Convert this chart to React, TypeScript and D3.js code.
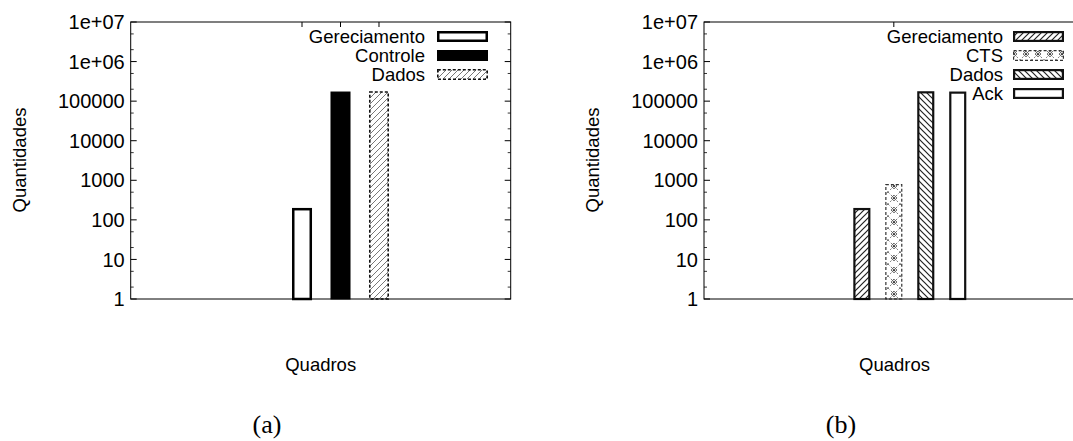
import React, { useEffect, useRef } from "react";
import * as d3 from "d3";

// dados
const categoriesA = ["Gereciamento", "Controle", "Dados"];
const valuesA = [200, 175000, 178000];
const categoriesB = ["Gereciamento", "CTS", "Dados", "Ack"];
const valuesB = [200, 800, 178000, 175000];
const yTicks = [1, 10, 100, 1000, 10000, 100000, 1000000, 10000000];
const yTickLabels = ["1", "10", "100", "1000", "10000", "100000", "1e+06", "1e+07"];
const xTicksA = ["Gereciamento", "Controle", "Dados"];
const xTicksB = ["CTS"];

const FONT = "'Liberation Sans', Arial, Helvetica, sans-serif";
const W = 1073;
const H = 441;

const stylesA = [
  { fill: "#fff", stroke: "#000", sw: 2.5, dash: null },
  { fill: "#000", stroke: "#000", sw: 1, dash: null },
  { fill: "url(#hatchLight)", stroke: "#111", sw: 1.6, dash: "3,2" },
];
const stylesB = [
  { fill: "url(#hatchFwd)", stroke: "#111", sw: 2.2, dash: null },
  { fill: "url(#cts)", stroke: "#333", sw: 1.2, dash: "3,2" },
  { fill: "url(#hatchBack)", stroke: "#111", sw: 2.2, dash: null },
  { fill: "#fff", stroke: "#111", sw: 2.2, dash: null },
];

const panels = [
  {
    categories: categoriesA, values: valuesA, styles: stylesA, xTicks: xTicksA,
    x0: 130.7, x1: 510.7, barRange: [292, 389], pad: 0.48,
    legendTextX: 425, legendX: 437, yLabelX: 19, caption: "(a)", captionX: 267,
  },
  {
    categories: categoriesB, values: valuesB, styles: stylesB, xTicks: xTicksB,
    x0: 704, x1: 1085, barRange: [853.3, 966.3], pad: 0.465,
    legendTextX: 1003, legendX: 1013, yLabelX: 592, caption: "(b)", captionX: 841,
  },
];

const drawPanel = (svg, p) => {
  const top = 22;
  const bottom = 299;
  const g = svg.append("g");

  const y = d3.scaleLog().domain([1, 1e7]).range([bottom, top]);
  const x = d3.scaleBand().domain(p.categories).range(p.barRange)
    .paddingInner(p.pad).paddingOuter(0);

  // ticks do eixo y (maiores e menores)
  const minors = [];
  d3.range(0, 7).forEach(e => [2, 5].forEach(m => minors.push(m * Math.pow(10, e))));
  minors.forEach(v => {
    g.append("line").attr("x1", p.x0).attr("x2", p.x0 + 3).attr("y1", y(v)).attr("y2", y(v))
      .attr("stroke", "#000").attr("stroke-width", 0.8);
    g.append("line").attr("x1", p.x1).attr("x2", p.x1 - 3).attr("y1", y(v)).attr("y2", y(v))
      .attr("stroke", "#000").attr("stroke-width", 0.8);
  });
  yTicks.forEach((v, i) => {
    g.append("line").attr("x1", p.x0).attr("x2", p.x0 + 6).attr("y1", y(v)).attr("y2", y(v))
      .attr("stroke", "#000");
    g.append("line").attr("x1", p.x1).attr("x2", p.x1 - 6).attr("y1", y(v)).attr("y2", y(v))
      .attr("stroke", "#000");
    g.append("text").attr("x", p.x0 - 6).attr("y", y(v)).attr("dy", "0.36em")
      .attr("text-anchor", "end").attr("font-family", FONT).attr("font-size", 20)
      .text(yTickLabels[i]);
  });

  // ticks do eixo x
  p.xTicks.forEach(c => {
    const cx = x(c) + x.bandwidth() / 2;
    g.append("line").attr("x1", cx).attr("x2", cx).attr("y1", top).attr("y2", top + 5)
      .attr("stroke", "#000");
    g.append("line").attr("x1", cx).attr("x2", cx).attr("y1", bottom).attr("y2", bottom - 5)
      .attr("stroke", "#000");
  });

  // barras
  p.categories.forEach((c, i) => {
    const s = p.styles[i];
    const v = p.values[i];
    g.append("rect")
      .attr("x", x(c) + s.sw / 2)
      .attr("y", y(v) + s.sw / 2)
      .attr("width", x.bandwidth() - s.sw)
      .attr("height", y(1) - y(v) - s.sw / 2)
      .attr("fill", s.fill).attr("stroke", s.stroke).attr("stroke-width", s.sw)
      .attr("stroke-dasharray", s.dash);
  });

  // moldura
  g.append("rect").attr("x", p.x0).attr("y", top).attr("width", p.x1 - p.x0)
    .attr("height", bottom - top).attr("fill", "none").attr("stroke", "#000").attr("stroke-width", 1);

  // legenda
  p.categories.forEach((c, i) => {
    const s = p.styles[i];
    const ly = 36.5 + i * 19;
    g.append("text").attr("x", p.legendTextX).attr("y", ly).attr("dy", "0.36em")
      .attr("text-anchor", "end").attr("font-family", FONT).attr("font-size", 18.5).text(c);
    g.append("rect").attr("x", p.legendX + s.sw / 2).attr("y", ly - 5.5 + s.sw / 2)
      .attr("width", 51 - s.sw).attr("height", 11 - s.sw)
      .attr("fill", s.fill).attr("stroke", s.stroke).attr("stroke-width", s.sw)
      .attr("stroke-dasharray", s.dash);
  });

  // rótulos
  g.append("text").attr("transform", `translate(${p.yLabelX},160) rotate(-90)`)
    .attr("dy", "0.36em").attr("text-anchor", "middle")
    .attr("font-family", FONT).attr("font-size", 18.5).text("Quantidades");
  g.append("text").attr("x", (p.x0 + p.x1) / 2).attr("y", 371).attr("text-anchor", "middle")
    .attr("font-family", FONT).attr("font-size", 18.5).text("Quadros");
  g.append("text").attr("x", p.captionX).attr("y", 433).attr("text-anchor", "middle")
    .attr("font-family", "'Liberation Serif', 'DejaVu Serif', serif").attr("font-size", 26)
    .text(p.caption);
};

const App = () => {
  const svgRef = useRef(null);

  useEffect(() => {
    const svg = d3.select(svgRef.current);
    svg.selectAll("*").remove();

    const defs = svg.append("defs");
    const hatch = (id, d, color, w, size) => {
      const pt = defs.append("pattern").attr("id", id).attr("patternUnits", "userSpaceOnUse")
        .attr("width", size).attr("height", size);
      pt.append("rect").attr("width", size).attr("height", size).attr("fill", "#fff");
      pt.append("path").attr("d", d).attr("stroke", color).attr("stroke-width", w).attr("fill", "none");
    };
    hatch("hatchLight", "M-1,1 l2,-2 M0,6 l6,-6 M5,7 l2,-2", "#555", 0.8, 6);
    hatch("hatchFwd", "M-1,1 l2,-2 M0,6 l6,-6 M5,7 l2,-2", "#222", 1.2, 6);
    hatch("hatchBack", "M-1,5 l2,2 M0,0 l6,6 M5,-1 l2,2", "#222", 1.2, 6);

    const cts = defs.append("pattern").attr("id", "cts").attr("patternUnits", "userSpaceOnUse")
      .attr("width", 12).attr("height", 12);
    cts.append("rect").attr("width", 12).attr("height", 12).attr("fill", "#fff");
    cts.append("path").attr("d", "M0,0 L12,12 M12,0 L0,12").attr("stroke", "#555")
      .attr("stroke-width", 0.8).attr("stroke-dasharray", "2,2").attr("fill", "none");
    cts.append("rect").attr("x", 4).attr("y", 4).attr("width", 4).attr("height", 4)
      .attr("transform", "rotate(45 6 6)").attr("fill", "none").attr("stroke", "#333").attr("stroke-width", 0.8);
    cts.append("circle").attr("cx", 6).attr("cy", 6).attr("r", 0.9).attr("fill", "#222");

    panels.forEach(p => drawPanel(svg, p));
  }, []);

  return (
    <svg ref={svgRef} width={W} height={H}
      style={{ position: "absolute", left: 0, top: 0, background: "#fff" }} />
  );
};

export default App;
